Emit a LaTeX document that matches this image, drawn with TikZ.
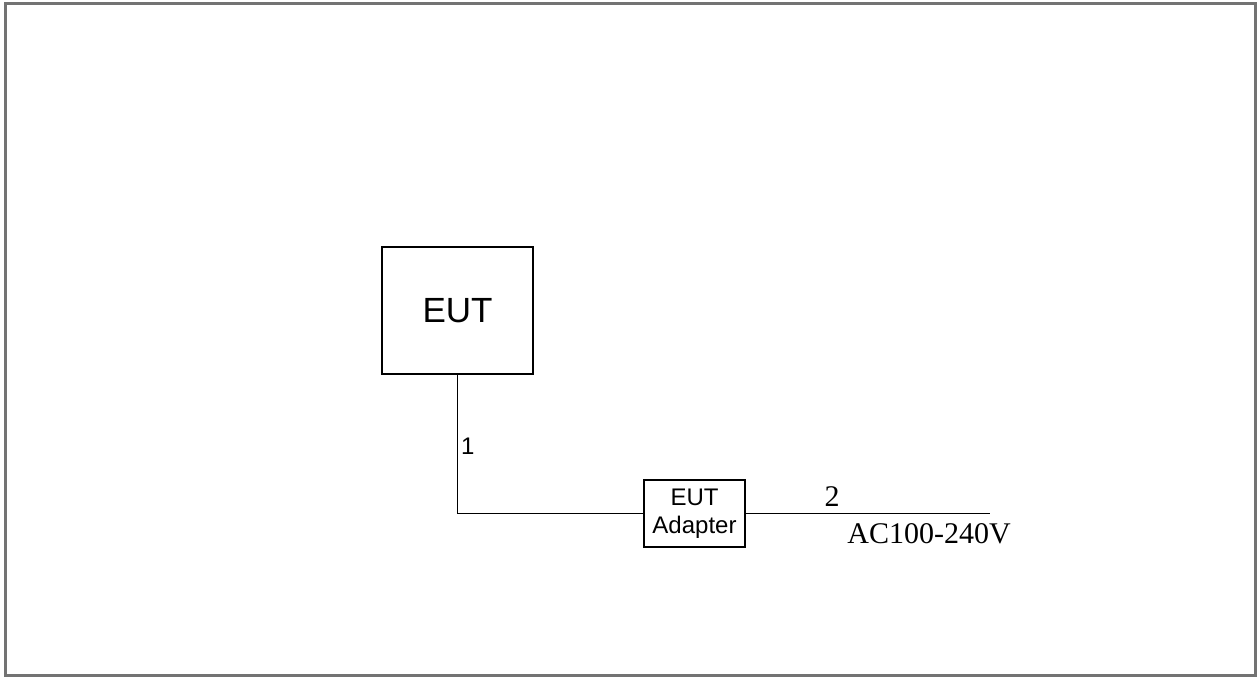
\documentclass[tikz,border=0pt]{standalone}
\usepackage{fontspec}
\setmainfont{Liberation Serif}
\newfontfamily\labelsans{Liberation Sans}
\begin{document}
\begin{tikzpicture}[
  x=1pt, y=-1pt,
  every node/.style={inner sep=0pt},
  unitbox/.style={rectangle, draw, line width=1.6pt, fill=white},
  wire/.style={line width=1.5pt},
  sanslabel/.style={font=\labelsans\fontsize{24}{28}\selectfont},
  seriflabel/.style={font=\fontsize{30}{34}\selectfont},
]
% Frame and margins
\useasboundingbox (0,0) rectangle (1258,677);
\draw[black!55, line width=3pt] (5,4) rectangle (1255,675);

% Units
\node[unitbox, minimum width=151, minimum height=127,
  font=\labelsans\fontsize{35}{38}\selectfont] (eut) at (457.5,310.5) {EUT};
\node[unitbox, minimum width=101, minimum height=67, sanslabel,
  align=center] (adapter) at (694.5,513.5) {EUT\\Adapter};

% Cable ends
\coordinate (bend) at (eut.south |- adapter.west);
\coordinate (mains) at (990,513.5);

% Cables
\draw[wire] (eut.south) -- (bend) -- (adapter.west);
\draw[wire] (adapter.east) -- (mains);

% Cable labels
\node[sanslabel, anchor=west] (cable1) at (461,446) {1};
\node[seriflabel] (cable2) at (832,497) {2};
\node[seriflabel] (supply) at (929,534) {AC100-240V};
\end{tikzpicture}
\end{document}
